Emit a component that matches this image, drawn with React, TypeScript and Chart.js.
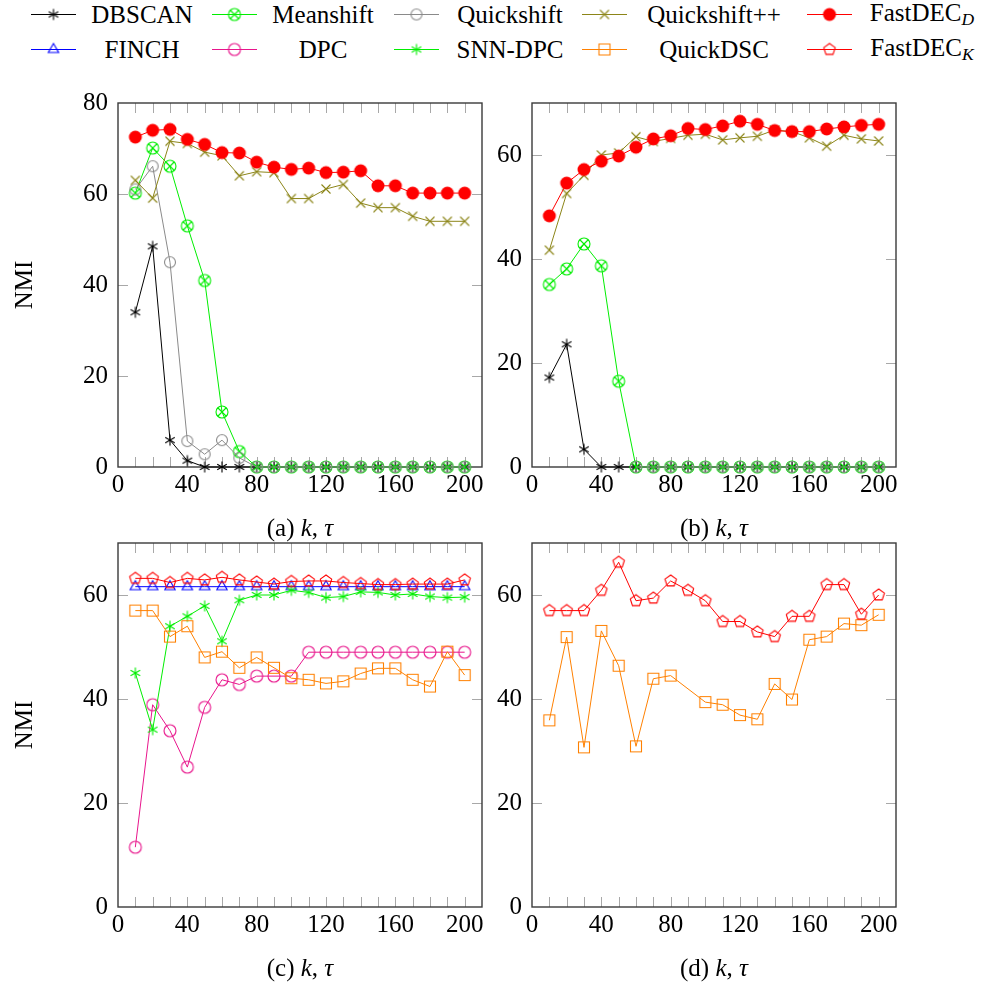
import React, { useEffect, useRef } from 'react';
import { Chart, registerables } from 'chart.js';
Chart.register(...registerables);

// ---------- data ----------
const kValues = [10, 20, 30, 40, 50, 60, 70, 80, 90, 100, 110, 120, 130, 140, 150, 160, 170, 180, 190, 200];
const xTickLabels = [0, 40, 80, 120, 160, 200];
const yTickLabelsA = [0, 20, 40, 60, 80];
const yTickLabelsOther = [0, 20, 40, 60];

// panel (a)
const dbscanA = [34.0, 48.5, 5.9, 1.4, 0, 0, 0, 0, 0, 0, 0, 0, 0, 0, 0, 0, 0, 0, 0, 0];
const meanshiftA = [60.2, 70.1, 66.1, 53.0, 41.0, 12.1, 3.4, 0, 0, 0, 0, 0, 0, 0, 0, 0, 0, 0, 0, 0];
const quickshiftA = [61.0, 66.1, 45.0, 5.7, 2.8, 5.9, 2.0, 0, 0, 0, 0, 0, 0, 0, 0, 0, 0, 0, 0, 0];
const quickshiftPPA = [63.0, 59.1, 71.6, 71.1, 69.2, 68.4, 64.0, 64.9, 64.7, 59.0, 59.0, 61.1, 62.1, 58.0, 57.0, 57.0, 55.1, 54.0, 54.0, 54.0];
const fastdecDA = [72.5, 74.0, 74.2, 72.0, 70.9, 69.1, 69.0, 67.0, 65.9, 65.4, 65.7, 64.7, 64.8, 65.1, 61.8, 61.8, 60.2, 60.2, 60.2, 60.2];

// panel (b)
const dbscanB = [17.2, 23.6, 3.4, 0, 0, 0, 0, 0, 0, 0, 0, 0, 0, 0, 0, 0, 0, 0, 0, 0];
const meanshiftB = [35.1, 38.1, 42.9, 38.7, 16.5, 0, 0, 0, 0, 0, 0, 0, 0, 0, 0, 0, 0, 0, 0, 0];
const quickshiftB = [null, null, null, null, null, 0, 0, 0, 0, 0, 0, 0, 0, 0, 0, 0, 0, 0, 0, 0];
const quickshiftPPB = [41.7, 52.6, 56.1, 60.0, 60.4, 63.5, 62.6, 63.2, 63.8, 64.0, 62.9, 63.3, 63.6, 64.8, 64.5, 63.3, 61.7, 63.8, 63.1, 62.7];
const fastdecDB = [48.3, 54.6, 57.2, 58.8, 59.8, 61.5, 63.1, 63.7, 65.1, 64.9, 65.6, 66.5, 65.9, 64.7, 64.5, 64.5, 65.0, 65.4, 65.7, 65.9];

// panel (c)
const finchC = [61.6, 61.6, 61.6, 61.6, 61.6, 61.6, 61.6, 61.6, 61.6, 61.6, 61.6, 61.6, 61.6, 61.6, 61.6, 61.6, 61.6, 61.6, 61.6, 61.6];
const dpcC = [11.5, 38.9, 33.9, 26.9, 38.4, 43.7, 42.8, 44.4, 44.4, 44.4, 49.0, 49.0, 49.0, 49.0, 49.0, 49.0, 49.0, 49.0, 49.0, 49.0];
const snnDpcC = [45.0, 34.1, 54.0, 55.9, 57.9, 51.1, 59.0, 60.0, 60.0, 60.9, 60.5, 59.5, 59.7, 60.6, 60.5, 60.0, 60.2, 59.7, 59.5, 59.6];
const quickDscC = [57.0, 57.0, 52.0, 54.0, 48.0, 49.1, 46.0, 48.0, 46.0, 44.0, 43.7, 43.0, 43.4, 44.9, 45.9, 45.9, 43.7, 42.4, 49.1, 44.6];
const fastdecKC = [63.2, 63.2, 62.4, 63.2, 62.9, 63.4, 62.9, 62.5, 62.1, 62.6, 62.7, 62.7, 62.4, 62.2, 62.0, 62.0, 62.1, 62.1, 62.1, 62.9];

// panel (d)
const quickDscD = [35.9, 51.9, 30.7, 53.1, 46.4, 30.9, 43.9, 44.5, null, 39.4, 38.9, 36.9, 36.1, 42.9, 39.9, 51.4, 52.0, 54.5, 54.2, 56.2];
const fastdecKD = [57.0, 57.0, 57.0, 60.9, 66.3, 58.9, 59.4, 62.7, 60.9, 58.9, 54.9, 54.9, 52.9, 52.0, 55.9, 55.9, 62.0, 62.0, 56.3, 60.0];

// ---------- styles ----------
const FONT = "'Liberation Serif', 'Times New Roman', serif";
const FONT_SIZE = 25;

type MarkerKind = 'asterisk' | 'otimes' | 'circle' | 'x' | 'dot' | 'triangle' | 'square' | 'pentagon';
type Style = { label: any; color: string; kind: MarkerKind; r: number };

const S_DBSCAN: Style = { label: 'DBSCAN', color: '#000000', kind: 'asterisk', r: 5.5 };
const S_MEANSHIFT: Style = { label: 'Meanshift', color: '#00ee00', kind: 'otimes', r: 6 };
const S_QUICKSHIFT: Style = { label: 'Quickshift', color: '#8a8a8a', kind: 'circle', r: 5.5 };
const S_QSPP: Style = { label: 'Quickshift++', color: '#8c8518', kind: 'x', r: 4.5 };
const S_FDD: Style = { label: 'FastDEC_D', color: '#ff0000', kind: 'dot', r: 6.5 };
const S_FINCH: Style = { label: 'FINCH', color: '#0000ff', kind: 'triangle', r: 6 };
const S_DPC: Style = { label: 'DPC', color: '#e8158c', kind: 'circle', r: 6 };
const S_SNN: Style = { label: 'SNN-DPC', color: '#00ee00', kind: 'asterisk', r: 5.5 };
const S_QDSC: Style = { label: 'QuickDSC', color: '#ff8000', kind: 'square', r: 5.5 };
const S_FDK: Style = { label: 'FastDEC_K', color: '#ff0000', kind: 'pentagon', r: 6 };

function makeMarker(kind: MarkerKind, color: string, r: number): HTMLCanvasElement {
  const s = 2 * Math.ceil(r + 2);
  const c = document.createElement('canvas');
  c.width = s;
  c.height = s;
  const g = c.getContext('2d')!;
  g.translate(s / 2, s / 2);
  g.strokeStyle = color;
  g.fillStyle = color;
  g.lineWidth = 1.1;
  g.beginPath();
  const poly = (n: number) => {
    for (let i = 0; i < n; i++) {
      const t = Math.PI / 2 + (i * 2 * Math.PI) / n;
      const px = r * Math.cos(t);
      const py = -r * Math.sin(t);
      if (i === 0) g.moveTo(px, py);
      else g.lineTo(px, py);
    }
    g.closePath();
  };
  switch (kind) {
    case 'asterisk':
      for (const a of [90, 30, 150]) {
        const t = (a * Math.PI) / 180;
        g.moveTo(r * Math.cos(t), -r * Math.sin(t));
        g.lineTo(-r * Math.cos(t), r * Math.sin(t));
      }
      g.stroke();
      break;
    case 'otimes': {
      g.arc(0, 0, r, 0, Math.PI * 2);
      const d = r * Math.SQRT1_2;
      g.moveTo(-d, -d);
      g.lineTo(d, d);
      g.moveTo(d, -d);
      g.lineTo(-d, d);
      g.stroke();
      break;
    }
    case 'circle':
      g.arc(0, 0, r, 0, Math.PI * 2);
      g.stroke();
      break;
    case 'x':
      g.moveTo(-r, -r);
      g.lineTo(r, r);
      g.moveTo(r, -r);
      g.lineTo(-r, r);
      g.stroke();
      break;
    case 'dot':
      g.arc(0, 0, r, 0, Math.PI * 2);
      g.fill();
      break;
    case 'triangle':
      poly(3);
      g.stroke();
      break;
    case 'square':
      g.rect(-r, -r, 2 * r, 2 * r);
      g.stroke();
      break;
    case 'pentagon':
      poly(5);
      g.stroke();
      break;
  }
  return c;
}

// ---------- geometry ----------
const PLOT_W = 364;
const PLOT_H = 364;
const PAD_TOP = 28;
const X_AXIS_H = 50;
const CANVAS_H = PAD_TOP + PLOT_H + X_AXIS_H;

const framePlugin = {
  id: 'frameTicks',
  beforeDatasetsDraw(chart: any) {
    const { ctx, chartArea, scales } = chart;
    const { left, right, top, bottom } = chartArea;
    const x = scales.x;
    const y = scales.y;
    ctx.save();
    ctx.strokeStyle = '#a8a8a8';
    ctx.lineWidth = 1;
    ctx.beginPath();
    for (const v of kValues) {
      const px = Math.round(x.getPixelForValue(v)) + 0.5;
      ctx.moveTo(px, bottom);
      ctx.lineTo(px, bottom - 10);
      ctx.moveTo(px, top);
      ctx.lineTo(px, top + 10);
    }
    for (const t of y.ticks) {
      if (t.value <= y.min || t.value >= y.max) continue;
      const py = Math.round(y.getPixelForValue(t.value)) + 0.5;
      ctx.moveTo(left, py);
      ctx.lineTo(left + 10, py);
      ctx.moveTo(right, py);
      ctx.lineTo(right - 10, py);
    }
    ctx.stroke();
    ctx.strokeStyle = '#3a3a3a';
    ctx.lineWidth = 1.4;
    ctx.strokeRect(left, top, right - left, bottom - top);
    ctx.restore();
  },
};

type SeriesSpec = { style: Style; values: (number | null)[] };

function Panel(props: {
  left: number;
  plotTop: number;
  yAxisW: number;
  yMax: number;
  yTicks: number[];
  showTitle: boolean;
  series: SeriesSpec[];
}) {
  const ref = useRef<HTMLCanvasElement>(null);
  const { left, plotTop, yAxisW, yMax, yTicks, showTitle, series } = props;
  const width = yAxisW + PLOT_W + 12;
  useEffect(() => {
    const font = { family: FONT, size: FONT_SIZE, lineHeight: 1.2 };
    const datasets = series.map((s, i) => {
      const marker = makeMarker(s.style.kind, s.style.color, s.style.r);
      return {
        label: s.style.label,
        data: kValues.map((k, j) => ({ x: k, y: s.values[j] })),
        borderColor: s.style.color,
        backgroundColor: s.style.color,
        borderWidth: 1,
        pointStyle: marker,
        pointRadius: s.style.r,
        pointHoverRadius: s.style.r,
        tension: 0,
        clip: false,
        spanGaps: true,
        order: 100 - i,
      };
    });
    const chart = new Chart(ref.current!, {
      type: 'line',
      data: { datasets } as any,
      options: {
        animation: false,
        responsive: false,
        maintainAspectRatio: false,
        events: [],
        layout: { padding: { top: PAD_TOP, right: 12, left: 0, bottom: 0 } },
        plugins: { legend: { display: false }, tooltip: { enabled: false } },
        scales: {
          x: {
            type: 'linear',
            min: 0,
            max: 210,
            grid: { display: false, drawTicks: false },
            border: { display: false },
            afterBuildTicks: (s: any) => {
              s.ticks = xTickLabels.map((v) => ({ value: v }));
            },
            afterFit: (s: any) => {
              s.height = X_AXIS_H;
            },
            ticks: { font, color: '#000', padding: 3, maxRotation: 0, autoSkip: false },
          },
          y: {
            type: 'linear',
            min: 0,
            max: yMax,
            grid: { display: false, drawTicks: false },
            border: { display: false },
            afterBuildTicks: (s: any) => {
              s.ticks = yTicks.map((v) => ({ value: v }));
            },
            afterFit: (s: any) => {
              s.width = yAxisW;
            },
            ticks: { font, color: '#000', padding: 10, autoSkip: false },
            title: {
              display: showTitle,
              text: 'NMI',
              font,
              color: '#000',
              padding: { top: 10, bottom: 0 },
            },
          },
        },
      } as any,
      plugins: [framePlugin],
    });
    return () => chart.destroy();
  }, []);
  return (
    <canvas
      ref={ref}
      width={width}
      height={CANVAS_H}
      style={{ position: 'absolute', left, top: plotTop - PAD_TOP, width, height: CANVAS_H }}
    />
  );
}

function LegendSample(props: { style: Style; left: number; cy: number }) {
  const ref = useRef<HTMLCanvasElement>(null);
  const { style, left, cy } = props;
  useEffect(() => {
    const c = ref.current!;
    const g = c.getContext('2d')!;
    g.clearRect(0, 0, c.width, c.height);
    g.strokeStyle = style.color;
    g.lineWidth = 1;
    g.beginPath();
    g.moveTo(0, 11.5);
    g.lineTo(45, 11.5);
    g.stroke();
    const m = makeMarker(style.kind, style.color, style.r);
    g.drawImage(m, 22.5 - m.width / 2, 11.5 - m.height / 2);
  }, []);
  return (
    <canvas
      ref={ref}
      width={46}
      height={23}
      style={{ position: 'absolute', left, top: cy - 11.5, width: 46, height: 23 }}
    />
  );
}

function LegendText(props: { cx: number; cy: number; children: any }) {
  return (
    <div
      style={{
        position: 'absolute',
        left: props.cx,
        top: props.cy,
        transform: 'translate(-50%, -50%)',
        whiteSpace: 'nowrap',
        fontFamily: FONT,
        fontSize: FONT_SIZE,
        lineHeight: 1,
        color: '#000',
      }}
    >
      {props.children}
    </div>
  );
}

const legendRows: { style: Style; sx: number; tx: number; text: any }[][] = [
  [
    { style: S_DBSCAN, sx: 31, tx: 142, text: 'DBSCAN' },
    { style: S_MEANSHIFT, sx: 212, tx: 323, text: 'Meanshift' },
    { style: S_QUICKSHIFT, sx: 394, tx: 510, text: 'Quickshift' },
    { style: S_QSPP, sx: 582, tx: 714, text: 'Quickshift++' },
    { style: S_FDD, sx: 807, tx: 922, text: 'FD' },
  ],
  [
    { style: S_FINCH, sx: 31, tx: 142, text: 'FINCH' },
    { style: S_DPC, sx: 212, tx: 323, text: 'DPC' },
    { style: S_SNN, sx: 394, tx: 510, text: 'SNN-DPC' },
    { style: S_QDSC, sx: 582, tx: 714, text: 'QuickDSC' },
    { style: S_FDK, sx: 807, tx: 922, text: 'FK' },
  ],
];
const legendRowY = [14, 49];

function renderLegendText(t: string) {
  if (t === 'FD')
    return (
      <span>
        FastDEC<sub style={{ fontSize: '0.7em', fontStyle: 'italic', verticalAlign: '-0.25em' }}>D</sub>
      </span>
    );
  if (t === 'FK')
    return (
      <span>
        FastDEC<sub style={{ fontSize: '0.7em', fontStyle: 'italic', verticalAlign: '-0.25em' }}>K</sub>
      </span>
    );
  return t;
}

function Caption(props: { cx: number; cy: number; letter: string }) {
  return (
    <div
      style={{
        position: 'absolute',
        left: props.cx,
        top: props.cy,
        transform: 'translate(-50%, -50%)',
        whiteSpace: 'nowrap',
        fontFamily: FONT,
        fontSize: FONT_SIZE,
        lineHeight: 1,
        color: '#000',
      }}
    >
      ({props.letter}) <i>k</i>, <i>τ</i>
    </div>
  );
}

export default function App() {
  return (
    <div
      style={{
        position: 'absolute',
        left: 0,
        top: 0,
        width: 988,
        height: 983,
        background: '#ffffff',
        overflow: 'hidden',
      }}
    >
      {legendRows.map((row, ri) =>
        row.map((e, ci) => (
          <React.Fragment key={`${ri}-${ci}`}>
            <LegendSample style={e.style} left={e.sx} cy={legendRowY[ri]} />
            <LegendText cx={e.tx} cy={legendRowY[ri]}>
              {renderLegendText(e.text)}
            </LegendText>
          </React.Fragment>
        ))
      )}
      <Panel
        left={0}
        plotTop={103}
        yAxisW={118}
        yMax={80}
        yTicks={yTickLabelsA}
        showTitle={true}
        series={[
          { style: S_DBSCAN, values: dbscanA },
          { style: S_MEANSHIFT, values: meanshiftA },
          { style: S_QUICKSHIFT, values: quickshiftA },
          { style: S_QSPP, values: quickshiftPPA },
          { style: S_FDD, values: fastdecDA },
        ]}
      />
      <Panel
        left={494}
        plotTop={103}
        yAxisW={38}
        yMax={70}
        yTicks={yTickLabelsOther}
        showTitle={false}
        series={[
          { style: S_DBSCAN, values: dbscanB },
          { style: S_MEANSHIFT, values: meanshiftB },
          { style: S_QUICKSHIFT, values: quickshiftB },
          { style: S_QSPP, values: quickshiftPPB },
          { style: S_FDD, values: fastdecDB },
        ]}
      />
      <Panel
        left={0}
        plotTop={543}
        yAxisW={118}
        yMax={70}
        yTicks={yTickLabelsOther}
        showTitle={true}
        series={[
          { style: S_FINCH, values: finchC },
          { style: S_DPC, values: dpcC },
          { style: S_SNN, values: snnDpcC },
          { style: S_QDSC, values: quickDscC },
          { style: S_FDK, values: fastdecKC },
        ]}
      />
      <Panel
        left={494}
        plotTop={543}
        yAxisW={38}
        yMax={70}
        yTicks={yTickLabelsOther}
        showTitle={false}
        series={[
          { style: S_QDSC, values: quickDscD },
          { style: S_FDK, values: fastdecKD },
        ]}
      />
      <Caption cx={300} cy={527} letter="a" />
      <Caption cx={714} cy={527} letter="b" />
      <Caption cx={300} cy={967} letter="c" />
      <Caption cx={714} cy={967} letter="d" />
    </div>
  );
}
